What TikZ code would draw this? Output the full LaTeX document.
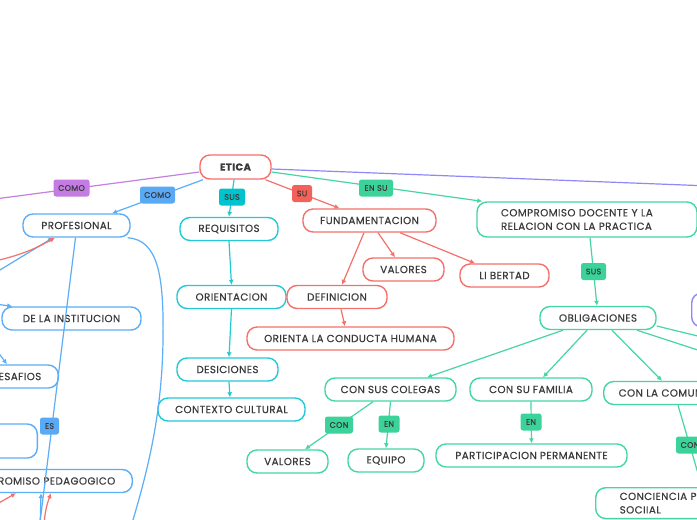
\documentclass[tikz,border=0pt]{standalone}
\usepackage{fontspec}
\setmainfont{Poppins}[LetterSpace=4, FakeBold=0.35]
\usetikzlibrary{arrows.meta, positioning}
\definecolor{rojo}{HTML}{F4716B}
\definecolor{azul}{HTML}{5BAEF7}
\definecolor{cian}{HTML}{22CAD6}
\definecolor{verde}{HTML}{45D6A3}
\definecolor{lila}{HTML}{C580E2}
\definecolor{violeta}{HTML}{8F88F6}
\definecolor{texto}{HTML}{3A3A3A}
\definecolor{tagrojo}{HTML}{F4615B}
\definecolor{tagazul}{HTML}{5AA9F5}
\definecolor{tagcian}{HTML}{00C3CE}
\definecolor{tagverde}{HTML}{3CD39B}
\definecolor{taglila}{HTML}{C47CE3}

\begin{document}
\begin{tikzpicture}[
  x=1pt, y=-1pt,
  topic/.style={rectangle, draw, rounded corners=10pt, line width=1.4pt, fill=white, text=texto, font=\fontsize{10.3}{13.5}\selectfont, minimum height=23pt, inner xsep=0pt, inner ysep=2pt},
  tag/.style={rectangle, rounded corners=2.5pt, text=texto, font=\fontsize{8}{9}\selectfont, minimum height=17pt, inner xsep=2pt, inner ysep=0pt},
  arr/.style={-{Latex[length=5pt, width=5pt]}, line width=1.2pt},
  lin/.style={line width=1.2pt}
]
\useasboundingbox (0,0) rectangle (697,520);
\clip (0,0) rectangle (697,520);
\fill[white] (0,0) rectangle (697,520);

% centro
\node[topic, draw=rojo, minimum width=71pt, minimum height=24pt, font=\fontsize{10}{12}\selectfont\bfseries] (etica) at (235.5,167) {ETICA};

% rama profesional (azul)
\node[topic, draw=azul, minimum width=107pt] (profesional) at (76.5,225.5) {PROFESIONAL};
\node[topic, draw=azul, minimum width=139pt] (institucion) at (71.5,318.5) {DE LA INSTITUCION};
\node[topic, draw=azul, anchor=east, text width=102pt, align=right, inner xsep=17pt] (desafios) at (59,376.5) {ESAFIOS};
\node[topic, draw=azul, anchor=east, minimum width=140pt, minimum height=34pt] (vacio) at (38,441) {};
\node[topic, draw=azul, anchor=east, text width=183pt, align=right, inner xsep=17pt] (pedagogico) at (133,481) {PROMISO PEDAGOGICO};

% rama requisitos (cian)
\node[topic, draw=cian, minimum width=98pt] (requisitos) at (229,229) {REQUISITOS};
\node[topic, draw=cian, minimum width=109pt] (orientacion) at (231.5,297) {ORIENTACION};
\node[topic, draw=cian, minimum width=101pt] (desiciones) at (227.5,369.5) {DESICIONES};
\node[topic, draw=cian, minimum width=147pt] (contexto) at (231.5,409.5) {CONTEXTO CULTURAL};

% rama fundamentacion (rojo)
\node[topic, draw=rojo, minimum width=133pt] (fundamentacion) at (369.5,220.5) {FUNDAMENTACION};
\node[topic, draw=rojo, minimum width=81pt] (valoresr) at (403.5,269.5) {VALORES};
\node[topic, draw=rojo, minimum width=89pt] (libertad) at (504.5,275.5) {LI BERTAD};
\node[topic, draw=rojo, minimum width=100pt] (definicion) at (337,297) {DEFINICION};
\node[topic, draw=rojo, minimum width=207pt] (conducta) at (350.5,338.5) {ORIENTA LA CONDUCTA HUMANA};

% rama compromiso (verde)
\node[topic, draw=verde, text width=172pt, align=left, inner xsep=24pt, minimum height=35pt] (compromiso) at (587,219.5) {COMPROMISO DOCENTE Y LA\\RELACION CON LA PRACTICA};
\node[topic, draw=verde, minimum width=116pt] (obligaciones) at (598,318) {OBLIGACIONES};
\node[topic, draw=verde, minimum width=131pt] (colegas) at (390.5,389.5) {CON SUS COLEGAS};
\node[topic, draw=verde, minimum width=122pt] (familia) at (531,389.5) {CON SU FAMILIA};
\node[topic, draw=verde, anchor=west, text width=120pt, align=left, inner xsep=15pt] (comunidad) at (603,393) {CON LA COMUN};
\node[topic, draw=verde, minimum width=81pt] (valoresv) at (287.5,461.5) {VALORES};
\node[topic, draw=verde, minimum width=76pt] (equipo) at (386,460.5) {EQUIPO};
\node[topic, draw=verde, minimum width=191pt] (participacion) at (531.5,455.5) {PARTICIPACION PERMANENTE};
\node[topic, draw=verde, anchor=north west, text width=120pt, align=left, inner xsep=24pt, inner ysep=5pt] (conciencia) at (595,487) {CONCIENCIA P\\SOCIIAL};

% nodo violeta al borde
\node[topic, draw=violeta, anchor=west, minimum width=80pt, minimum height=34pt] (derecha) at (691,310) {};

% puntos fuera del cuadro
\coordinate (fueraL) at (-5,199);
\coordinate (fueraR) at (710,186);
\coordinate (fueraR1) at (710,354);
\coordinate (fueraR2) at (710,339);
\coordinate (abajo1) at (130,530);
\coordinate (abajo2) at (39,530);
\coordinate (abajo3) at (40,530);
\coordinate (abajo4) at (44,525);
\coordinate (izq1) at (-5,261);
\coordinate (izq2) at (-5,273);
\coordinate (izq3) at (-5,304);
\coordinate (izq4) at (-5,348);
\coordinate (izq5) at (-10,508);

% conectores desde ETICA
\draw[lin, lila] ([yshift=-5pt]etica.west) -- (fueraL);
\draw[arr, azul] ([xshift=-32.5pt]etica.south) -- ([xshift=35.5pt]profesional.north);
\draw[arr, cian] ([xshift=-1.5pt]etica.south) -- (requisitos.north);
\draw[arr, rojo] ([xshift=30pt]etica.south) -- ([xshift=-30pt]fundamentacion.north);
\draw[arr, verde] ([yshift=-5pt]etica.east) -- ([xshift=6pt]compromiso.north west);
\draw[lin, violeta] ([yshift=-2pt]etica.east) -- (fueraR);

% azul
\draw[lin, azul] ([xshift=-3pt]profesional.south east) .. controls (158,240) and (164,275) .. (163,340) .. controls (162,420) and (145,480) .. (abajo1);
\draw[lin, azul] ([xshift=-1pt]profesional.south) -- (abajo2);
\draw[arr, azul] (abajo3) -- ([xshift=-92pt]pedagogico.south east);
\draw[arr, azul] (izq2) -- ([xshift=-23.5pt]profesional.south);
\draw[arr, rojo] (izq1) to[bend right=8] ([xshift=-21.5pt]profesional.south);
\draw[arr, azul] (izq3) -- ([xshift=11pt]institucion.north west);
\draw[arr, azul] (izq4) -- ([xshift=-52pt]desafios.north east);
\draw[arr, rojo] (izq5) -- ([xshift=-117pt]pedagogico.south east);
\draw[arr, rojo] (abajo4) to[bend left=8] ([xshift=-82pt]pedagogico.south east);

% cian
\draw[arr, cian] (requisitos.south) -- (orientacion.north);
\draw[arr, cian] (orientacion.south) -- ([xshift=1.5pt]desiciones.north);
\draw[arr, cian] ([xshift=1.5pt]desiciones.south) -- ([xshift=-1.5pt]contexto.north);

% rojo
\draw[arr, rojo] ([xshift=-5.5pt]fundamentacion.south) -- ([xshift=5pt]definicion.north);
\draw[arr, rojo] ([xshift=8.5pt]fundamentacion.south) -- ([xshift=-8.5pt]valoresr.north);
\draw[arr, rojo] ([xshift=30.5pt]fundamentacion.south) -- ([xshift=-29.5pt]libertad.north);
\draw[arr, rojo] ([xshift=4pt]definicion.south) -- ([xshift=-5.5pt]conducta.north);

% verde
\draw[arr, verde] ([xshift=3pt]compromiso.south) -- ([xshift=-1pt]obligaciones.north);
\draw[arr, verde] ([xshift=-35pt]obligaciones.south) -- ([xshift=36.5pt]colegas.north);
\draw[arr, verde] ([xshift=-11pt]obligaciones.south) -- ([xshift=12pt]familia.north);
\draw[arr, verde] ([xshift=14pt]obligaciones.south) -- ([xshift=59pt]comunidad.north west);
\draw[lin, verde] ([xshift=39pt]obligaciones.south) -- (fueraR1);
\draw[lin, verde] ([yshift=-8pt]obligaciones.east) -- (fueraR2);
\draw[arr, verde] ([xshift=-17.5pt]colegas.south) -- ([xshift=17.5pt]valoresv.north);
\draw[arr, verde] (colegas.south) -- (equipo.north);
\draw[arr, verde] (familia.south) -- (participacion.north);
\draw[arr, verde] ([xshift=75pt]comunidad.south west) -- ([xshift=107pt]conciencia.north west);

% etiquetas
\node[tag, fill=taglila, minimum width=36pt] (tcomo1) at (71.5,188) {COMO};
\node[tag, fill=tagazul, minimum width=35pt] (tcomo2) at (157.5,195) {COMO};
\node[tag, fill=tagcian, minimum width=26pt] (tsus1) at (232,197) {SUS};
\node[tag, fill=tagrojo, minimum width=20pt] (tsu) at (302,193.5) {SU};
\node[tag, fill=tagverde, minimum width=34pt] (tensu) at (376,188) {EN SU};
\node[tag, fill=tagverde, minimum width=25pt] (tsus2) at (593.5,271.5) {SUS};
\node[tag, fill=tagverde, minimum width=28pt] (tcon1) at (339,425) {CON};
\node[tag, fill=tagverde, minimum width=21pt] (ten1) at (389,424) {EN};
\node[tag, fill=tagverde, minimum width=21pt] (ten2) at (531,422) {EN};
\node[tag, fill=tagverde, minimum width=28pt] (tcon2) at (690,445) {CON};
\node[tag, fill=tagazul, minimum width=19pt] (tes) at (49.5,426) {ES};
\end{tikzpicture}
\end{document}
